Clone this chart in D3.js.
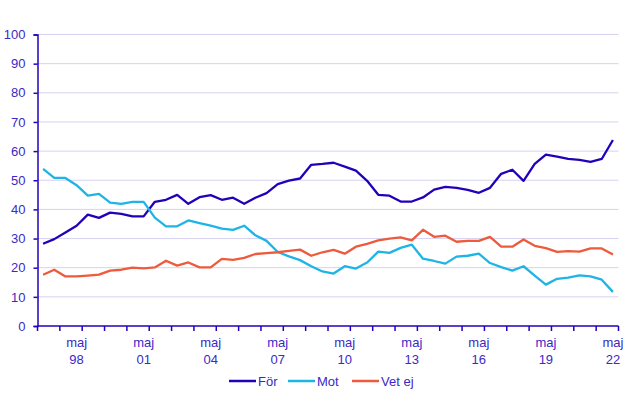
<!doctype html>
<html lang="sv">
<head>
    <meta charset="utf-8">
    <title></title>
    <script src="https://d3js.org/d3.v7.min.js"></script>
    <style type="text/css">
        body { margin: 0; background: #fff; }
        text { font-family: "Liberation Sans", Arial, sans-serif; fill: #3c28c8; }
    </style>
</head>

<body>
</body>

<script type="text/javascript">

    var periods = ["1996-11","1997-05","1997-11","1998-05","1998-11","1999-05","1999-11","2000-05","2000-11",
                   "2001-05","2001-11","2002-05","2002-11","2003-05","2003-11","2004-05","2004-11","2005-05",
                   "2005-11","2006-05","2006-11","2007-05","2007-11","2008-05","2008-11","2009-05","2009-11",
                   "2010-05","2010-11","2011-05","2011-11","2012-05","2012-11","2013-05","2013-11","2014-05",
                   "2014-11","2015-05","2015-11","2016-05","2016-11","2017-05","2017-11","2018-05","2018-11",
                   "2019-05","2019-11","2020-05","2020-11","2021-05","2021-11","2022-05"];

    var forValues = [28.2, 29.8, 32.1, 34.4, 38.2, 37.1, 38.9, 38.5, 37.6, 37.6, 42.6, 43.3, 45.0,
                     41.9, 44.2, 44.9, 43.3, 44.0, 41.9, 44.0, 45.6, 48.7, 49.9, 50.6, 55.3, 55.6,
                     56.0, 54.7, 53.3, 49.8, 45.0, 44.7, 42.7, 42.7, 44.1, 46.8, 47.7, 47.4, 46.7,
                     45.7, 47.4, 52.2, 53.6, 49.8, 55.6, 58.8, 58.1, 57.3, 57.0, 56.3, 57.3, 63.8];

    var motValues = [53.9, 50.8, 50.8, 48.3, 44.7, 45.3, 42.3, 41.9, 42.6, 42.6, 37.2, 34.2, 34.2,
                     36.2, 35.3, 34.4, 33.4, 33.0, 34.4, 31.1, 29.2, 25.4, 23.9, 22.6, 20.5, 18.7,
                     18.0, 20.5, 19.7, 21.8, 25.5, 25.1, 26.8, 27.9, 23.1, 22.3, 21.4, 23.8, 24.1,
                     24.8, 21.6, 20.2, 19.0, 20.5, 17.3, 14.2, 16.2, 16.6, 17.4, 17.0, 15.9, 11.7];

    var vetEjValues = [17.6, 19.3, 17.0, 17.0, 17.3, 17.6, 19.0, 19.3, 20.0, 19.8, 20.1, 22.4, 20.7,
                       21.8, 20.1, 20.1, 23.0, 22.7, 23.4, 24.7, 25.0, 25.3, 25.8, 26.2, 24.1, 25.3,
                       26.1, 24.8, 27.2, 28.2, 29.4, 30.0, 30.4, 29.4, 33.0, 30.6, 31.0, 28.9, 29.2,
                       29.2, 30.6, 27.2, 27.2, 29.7, 27.5, 26.7, 25.4, 25.7, 25.5, 26.6, 26.6, 24.5];

    var seriesNames  = ["För", "Mot", "Vet ej"];
    var seriesColors = ["#2300b9", "#1eb4e6", "#ee5a3c"];
    var yTicks = [0, 10, 20, 30, 40, 50, 60, 70, 80, 90, 100];
    var xLabelPeriods = ["1998-05","2001-05","2004-05","2007-05","2010-05","2013-05","2016-05","2019-05","2022-05"];
    var xLabelYears   = ["98","01","04","07","10","13","16","19","22"];

    var width = 643, height = 397;
    var plotLeft = 37.5, plotRight = 618.5, plotTop = 34.5, plotBottom = 326;
    var axisColor = "#2300b9";
    var fontSize = "13px";

    var svg = d3.select("body")
                .append("svg")
                .attr("width", width)
                .attr("height", height);

    var xScale = d3.scaleBand()
                   .domain(periods)
                   .range([plotLeft, plotRight])
                   .padding(0);

    var yScale = d3.scaleLinear()
                   .domain([0, 100])
                   .range([plotBottom, plotTop]);

    var xc = (p) => xScale(p) + xScale.bandwidth() / 2;

    // gridlines
    svg.selectAll("line.grid").data(yTicks.filter((d)=>d>0))
       .enter().append("line")
       .attr("x1", plotLeft).attr("x2", plotRight)
       .attr("y1", (d)=>yScale(d)).attr("y2", (d)=>yScale(d))
       .style("stroke", "#d4d2f0").style("stroke-width", 1);

    // y axis
    var yAxis = d3.axisLeft(yScale).tickValues(yTicks).tickSize(4).tickPadding(8);
    var gy = svg.append("g").attr("transform", "translate(" + plotLeft + ",0)").call(yAxis);
    gy.select(".domain").style("stroke", axisColor).style("stroke-width", 1.5);
    gy.selectAll(".tick line").style("stroke", axisColor).style("stroke-width", 1.5);
    gy.selectAll(".tick text").style("font-size", fontSize).style("fill", "#3c28c8")
      .style("font-family", "'Liberation Sans', Arial, sans-serif");

    // x axis: ticks every second category (one per year)
    var tickPos = periods.filter((p, i)=>i % 2 === 0).map((p)=>xScale(p)).concat([plotRight]);
    svg.append("line")
       .attr("x1", plotLeft).attr("x2", plotRight)
       .attr("y1", plotBottom).attr("y2", plotBottom)
       .style("stroke", axisColor).style("stroke-width", 1.5);
    svg.selectAll("line.xtick").data(tickPos)
       .enter().append("line")
       .attr("x1", (d)=>d).attr("x2", (d)=>d)
       .attr("y1", plotBottom).attr("y2", plotBottom + 5)
       .style("stroke", axisColor).style("stroke-width", 1.5);

    var xl = svg.selectAll("g.xlab").data(xLabelPeriods)
       .enter().append("g")
       .attr("transform", (d)=>"translate(" + xc(d) + ",0)");
    xl.append("text").text("maj")
      .attr("y", 347).attr("text-anchor", "middle").style("font-size", fontSize);
    xl.append("text").text((d, i)=>xLabelYears[i])
      .attr("y", 364).attr("text-anchor", "middle").style("font-size", fontSize);

    // lines
    var allValues = [forValues, motValues, vetEjValues];
    var line = d3.line()
                 .x((d, i)=>xc(periods[i]))
                 .y((d)=>yScale(d));

    svg.selectAll("path.series").data(allValues)
       .enter().append("path")
       .attr("d", (d)=>line(d))
       .style("fill", "none")
       .style("stroke", (d, i)=>seriesColors[i])
       .style("stroke-width", 2.3)
       .style("stroke-linejoin", "round");

    // legend
    var legendX = [229, 288, 352];
    var lg = svg.selectAll("g.legend").data(seriesNames)
       .enter().append("g")
       .attr("transform", (d, i)=>"translate(" + legendX[i] + ",381)");
    lg.append("line")
      .attr("x1", 0).attr("x2", 27).attr("y1", 0).attr("y2", 0)
      .style("stroke", (d, i)=>seriesColors[i]).style("stroke-width", 2.5);
    lg.append("text").text((d)=>d)
      .attr("x", 29).attr("y", 4.5).style("font-size", fontSize);

</script>

</html>
